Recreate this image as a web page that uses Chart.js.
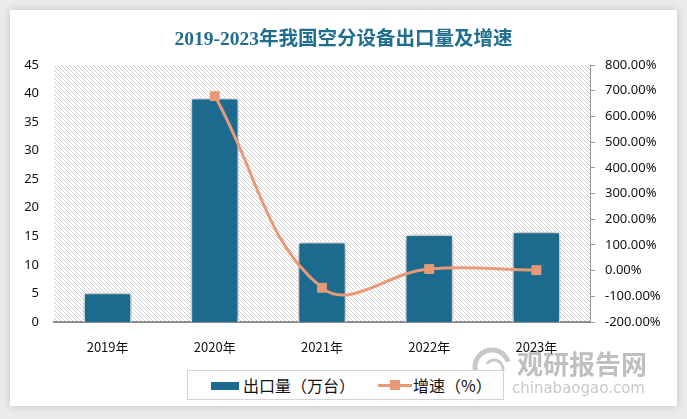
<!DOCTYPE html>
<html>
<head>
<meta charset="utf-8">
<script src="https://cdn.jsdelivr.net/npm/chart.js@4.4.1/dist/chart.umd.min.js"></script>
<style>
  html,body{margin:0;padding:0;width:687px;height:419px;overflow:hidden;background:#ebebeb;}
  #card{position:absolute;left:10px;top:10px;width:667px;height:396px;background:#fff;box-shadow:0 0 8px rgba(0,0,0,0.18);}
  #wrap{position:absolute;left:0;top:0;width:687px;height:419px;}
  #legend{position:absolute;left:187px;top:370px;width:315px;height:28px;border:1px solid #d4d4d4;background:#fff;
    font-family:"Noto Sans CJK SC","Noto Sans",sans-serif;font-size:16px;color:#111;}
  .li{position:absolute;top:0;height:28px;line-height:28px;white-space:nowrap;}
  .sw1{position:absolute;left:23px;top:11px;width:28px;height:8px;background:#1C6B8E;}
  .sw2{position:absolute;left:190px;top:13px;width:34px;height:3px;background:#E89A78;}
  .sw2m{position:absolute;left:202px;top:9px;width:10px;height:10px;background:#E89A78;}
</style>
</head>
<body>
<div id="card"></div>
<div id="wrap"><canvas id="c" width="687" height="419"></canvas></div>
<div id="legend">
  <span class="sw1"></span><span class="li" style="left:55px;">出口量（万台）</span>
  <span class="sw2"></span><span class="sw2m"></span><span class="li" style="left:225px;">增速（%）</span>
</div>
<script>
const categories = ["2019年","2020年","2021年","2022年","2023年"];
const exportVolume = [5.1, 39.2, 14, 15.3, 15.8];
const growthRate = [null, 679, -67, 6, 2];
const leftTicks = [0, 45, 5];
const rightTicks = [-200, 800, 100];

function makeHatch(){
  const p = document.createElement('canvas');
  p.width = 4; p.height = 4;
  const g = p.getContext('2d');
  g.fillStyle = '#ffffff'; g.fillRect(0,0,4,4);
  g.fillStyle = '#d2d2d2';
  for(let i=0;i<4;i++){ g.fillRect(i,i,1,1); }
  return p;
}

const bgPlugin = {
  id:'bg',
  beforeDraw(chart){
    const {ctx, chartArea:a} = chart;
    ctx.save();
    ctx.fillStyle = ctx.createPattern(makeHatch(),'repeat');
    ctx.fillRect(a.left, a.top, a.right-a.left, a.bottom-a.top);
    ctx.restore();
  },
  beforeDatasetDraw(chart, args){
    if(args.index===1){
      chart.ctx.save();
      chart.ctx.shadowColor='rgba(0,0,0,0.45)';
      chart.ctx.shadowBlur=8;
      chart.ctx.shadowOffsetX=0;
      chart.ctx.shadowOffsetY=0;
    }
  },
  afterDatasetDraw(chart, args){
    if(args.index===1){ chart.ctx.restore(); }
  },
  afterDraw(chart){
    const ctx = chart.ctx;
    ctx.save();
    ctx.globalAlpha = 0.55;
    ctx.strokeStyle = '#9a9a9a';
    ctx.lineWidth = 5;
    ctx.beginPath(); ctx.arc(492, 367, 17, Math.PI*0.75, Math.PI*1.9); ctx.stroke();
    ctx.lineWidth = 3;
    ctx.beginPath(); ctx.arc(494, 369, 9, Math.PI*1.2, Math.PI*2.4); ctx.stroke();
    ctx.fillStyle = '#8a8a8a';
    ctx.font = 'bold 26px "Noto Sans CJK SC", sans-serif';
    ctx.textBaseline = 'middle';
    ctx.textAlign = 'left';
    ctx.fillText('观研报告网', 517, 364);
    ctx.fillStyle = '#9a9a9a';
    ctx.font = '15px "DejaVu Sans", sans-serif';
    ctx.fillText('chinabaogao.com', 512, 389);
    ctx.restore();
  }
};

new Chart(document.getElementById('c'), {
  data:{
    labels: categories,
    datasets:[
      {
        type:'line', label:'增速（%）', data: growthRate, yAxisID:'y1',
        borderColor:'#E89A78', backgroundColor:'#E89A78', borderWidth:3,
        tension:0.4, spanGaps:true,
        pointStyle:'rect', pointRadius:7, pointHoverRadius:7, pointBorderWidth:0,
        order:0
      },
      {
        type:'bar', label:'出口量（万台）', data: exportVolume, yAxisID:'y',
        backgroundColor:'#1C6B8E', borderColor:'#ffffff', borderWidth:1.5,
        categoryPercentage:1, barPercentage:0.45,
        order:1
      }
    ]
  },
  options:{
    responsive:false, animation:false, devicePixelRatio:1,
    layout:{padding:{left:0,right:0,top:0,bottom:0}},
    plugins:{
      legend:{display:false},
      tooltip:{enabled:false},
      title:{
        display:true, text:'2019-2023年我国空分设备出口量及增速',
        color:'#1F6E8F',
        font:{family:'"Liberation Serif","Noto Sans CJK SC",serif', size:19.5, weight:'bold', lineHeight:1.2},
        padding:{top:28, bottom:13.6}
      }
    },
    scales:{
      x:{
        grid:{display:false, drawTicks:false},
        border:{display:true, color:'#8c8c8c', width:2},
        ticks:{color:'#111', font:{family:'"Noto Sans CJK SC","Noto Sans",sans-serif', size:13}, padding:17},
        afterFit(s){ s.height = 97; }
      },
      y:{
        position:'left', min:leftTicks[0], max:leftTicks[1],
        ticks:{stepSize:leftTicks[2], color:'#111', font:{family:'"Noto Sans",sans-serif', size:13}, padding:15},
        grid:{display:false, drawTicks:false},
        border:{display:false},
        afterFit(s){ s.width = 54; }
      },
      y1:{
        position:'right', min:rightTicks[0], max:rightTicks[1],
        ticks:{stepSize:rightTicks[2], color:'#111', font:{family:'"Noto Sans",sans-serif', size:13}, padding:10,
          callback:v=>v.toFixed(2)+'%'},
        grid:{display:true, drawOnChartArea:false, drawTicks:true, tickLength:5, color:'#999'},
        border:{display:true, color:'#999', width:1},
        afterFit(s){ s.width = 97; }
      }
    }
  },
  plugins:[bgPlugin]
});
</script>
</body>
</html>
